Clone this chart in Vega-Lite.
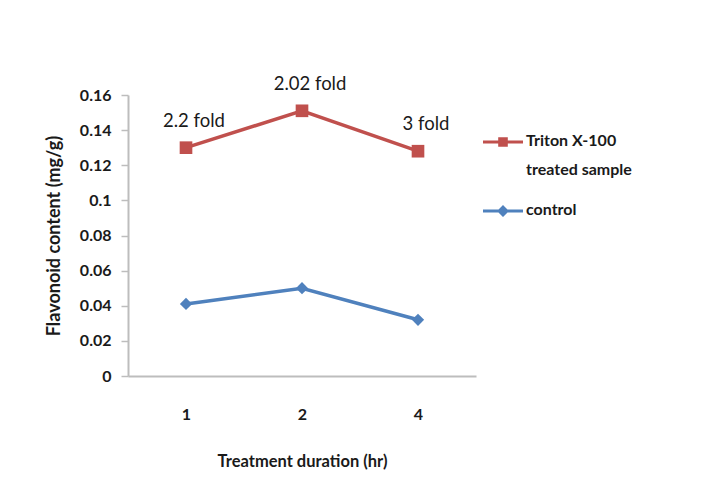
{
  "$schema": "https://vega.github.io/schema/vega-lite/v6.json",
  "width": 348,
  "height": 281,
  "autosize": "none",
  "padding": {"left": 128, "top": 95, "right": 249, "bottom": 117},
  "background": "white",
  "config": {
    "view": {"stroke": null},
    "font": "Lato",
    "axis": {"grid": false}
  },
  "data": {
    "values": [
      {"hr": "1", "series": "Triton X-100 treated sample", "value": 0.130, "label": "2.2 fold"},
      {"hr": "2", "series": "Triton X-100 treated sample", "value": 0.151, "label": "2.02 fold"},
      {"hr": "4", "series": "Triton X-100 treated sample", "value": 0.128, "label": "3 fold"},
      {"hr": "1", "series": "control", "value": 0.041, "label": null},
      {"hr": "2", "series": "control", "value": 0.050, "label": null},
      {"hr": "4", "series": "control", "value": 0.032, "label": null}
    ]
  },
  "encoding": {
    "x": {
      "field": "hr", "type": "ordinal", "sort": ["1", "2", "4"],
      "scale": {"type": "point", "padding": 0.5},
      "axis": {
        "title": "Treatment duration (hr)", "labelAngle": 0, "ticks": false,
        "labelPadding": 30, "labelFontSize": 16, "labelFontWeight": "bold", "labelColor": "#1a1a1a",
        "titleFontSize": 16.5, "titleFontWeight": "bold", "titleColor": "#1a1a1a", "titlePadding": 31,
        "domainColor": "#bdbdbd", "domainWidth": 2
      }
    },
    "y": {
      "field": "value", "type": "quantitative",
      "scale": {"domain": [0, 0.16]},
      "axis": {
        "title": "Flavonoid content (mg/g)",
        "values": [0, 0.02, 0.04, 0.06, 0.08, 0.1, 0.12, 0.14, 0.16],
        "format": "~g",
        "labelFontSize": 16, "labelFontWeight": "bold", "labelColor": "#1a1a1a", "labelPadding": 10,
        "tickColor": "#bdbdbd", "tickSize": 7, "tickWidth": 1.5,
        "domainColor": "#bdbdbd", "domainWidth": 2,
        "titleFontSize": 18, "titleFontWeight": "bold", "titleColor": "#1a1a1a", "titlePadding": 16
      }
    },
    "color": {
      "field": "series", "type": "nominal",
      "scale": {"domain": ["Triton X-100 treated sample", "control"], "range": ["#C0504D", "#4F81BD"]},
      "legend": {
        "title": null,
        "orient": "none",
        "legendX": 355,
        "legendY": 27,
        "symbolSize": 1600,
        "symbolType": "M-1,-0.09H1V0.09H-1Z",
        "labelFontSize": 16,
        "labelFontWeight": "bold",
        "labelColor": "#1a1a1a",
        "labelOffset": 3,
        "rowPadding": 13,
        "labelExpr": "datum.label == 'control' ? 'control' : ['Triton X-100', 'treated sample']",
        "encode": {
          "symbols": {
            "update": {
              "shape": {"signal": "datum.value == 'control' ? 'M-1,-0.08H1V0.08H-1Z M0,-0.3L0.3,0L0,0.3L-0.3,0Z' : 'M-1,-0.08H1V0.08H-1Z M-0.24,-0.24H0.24V0.24H-0.24Z'"},
              "fill": {"signal": "datum.value == 'control' ? '#4F81BD' : '#C0504D'"},
              "stroke": {"value": "transparent"},
              "strokeWidth": {"value": 0},
              "opacity": {"value": 1}
            }
          },
          "labels": {
            "update": {
              "lineHeight": {"value": 29},
              "baseline": {"value": "top"},
              "dy": {"value": -9}
            }
          }
        }
      }
    }
  },
  "layer": [
    {"mark": {"type": "line", "strokeWidth": 3.5}},
    {
      "transform": [{"filter": "datum.series != 'control'"}],
      "mark": {"type": "point", "filled": true, "opacity": 1, "size": 160, "shape": "square"}
    },
    {
      "transform": [{"filter": "datum.series == 'control'"}],
      "mark": {"type": "point", "filled": true, "opacity": 1, "size": 150, "shape": "diamond"}
    },
    {
      "transform": [{"filter": "datum.label != null"}],
      "mark": {"type": "text", "fontSize": 18.5, "dy": -27, "dx": 8, "color": "#1a1a1a"},
      "encoding": {"text": {"field": "label"}, "color": {"value": "#1a1a1a"}}
    }
  ]
}
